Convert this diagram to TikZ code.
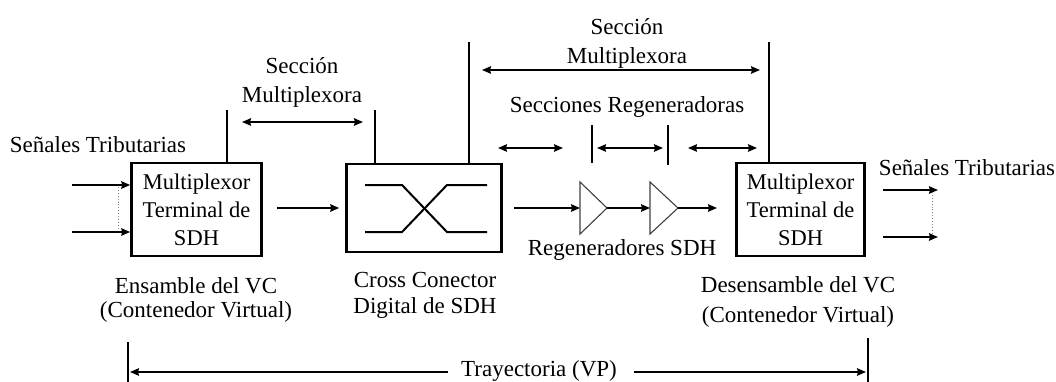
\documentclass[tikz,border=0pt]{standalone}
\usepackage{fontspec}
\setmainfont{Liberation Serif}
\usetikzlibrary{arrows.meta}
\begin{document}
\begin{tikzpicture}[x=1pt,y=-1pt,
  box/.style={draw, line width=2.6pt, align=center, inner sep=0pt, font=\fontsize{22.5}{28}\selectfont},
  lbl/.style={align=center, inner sep=0pt, font=\fontsize{23}{29}\selectfont},
  tip/.style={-{Stealth[length=9pt,width=7.5pt,inset=1pt]}},
  conn/.style={line width=1.6pt, tip},
  dbl/.style={line width=1.6pt, {Stealth[length=9pt,width=7.5pt,inset=1pt]}-{Stealth[length=9pt,width=7.5pt,inset=1pt]}},
  tick/.style={line width=1.4pt},
  dotline/.style={line width=0.9pt, dotted, gray},
  xpath/.style={line width=2pt},
  regen/.style={line width=1.1pt, draw=black!75}
]
\useasboundingbox (0,0) rectangle (1056,382);

% boxes
\node[box, minimum width=130pt, minimum height=93pt] (b1) at (196.5,209.5) {Multiplexor\\Terminal de\\SDH};
\node[box, minimum width=155pt, minimum height=88pt] (b2) at (424,208) {};
\node[box, minimum width=128pt, minimum height=93pt] (b3) at (800.5,209.5) {Multiplexor\\Terminal de\\SDH};

% cross connector symbol
\draw[xpath] (365,185) -- (402,185) -- (447,232) -- (487,232);
\draw[xpath] (365,232) -- (402,232) -- (447,185) -- (487,185);

% regenerators
\coordinate (t1w) at (580,208); \coordinate (t1e) at (607,208);
\coordinate (t2w) at (650,208); \coordinate (t2e) at (678,208);
\draw[regen] (580,182) -- (t1e) -- (580,234) -- cycle;
\draw[regen] (650,182) -- (t2e) -- (650,234) -- cycle;

% left tributary inputs
\coordinate (in1) at (72,185);
\coordinate (in2) at (72,232);
\draw[conn] (in1) -- (in1 -| b1.west);
\draw[conn] (in2) -- (in2 -| b1.west);
\draw[dotline] (118,187) -- (118,230);

% main chain
\draw[conn, shorten <=14pt, shorten >=6pt] (b1.east |- 0,208) -- (b2.west |- 0,208);
\draw[conn, shorten <=11pt] (b2.east |- t1w) -- (t1w);
\draw[conn] (t1e) -- (t2w);
\coordinate (t3) at (717,208);
\draw[conn] (t2e) -- (t3);

% right tributary outputs
\coordinate (o1s) at (883,190); \coordinate (o1) at (938,190);
\coordinate (o2s) at (883,237); \coordinate (o2) at (938,237);
\draw[conn] (o1s) -- (o1);
\draw[conn] (o2s) -- (o2);
\draw[dotline] (932,192) -- (932,235);

% vertical markers
\coordinate (v1) at (227,110);
\coordinate (v2) at (375,110);
\coordinate (v3) at (469,42);
\coordinate (v4) at (769,42);
\draw[tick] (v1) -- (v1 |- b1.north);
\draw[tick] (v2) -- (v2 |- b2.north);
\draw[tick] (v3) -- (v3 |- b2.north);
\draw[tick] (v4) -- (v4 |- b3.north);
\draw[tick] (592,125) -- (592,163);
\draw[tick] (668,125) -- (668,165);
\draw[tick] (128,342) -- (128,382);
\draw[tick] (868,338) -- (868,382);

% section arrows
\coordinate (s1a) at (242,122); \coordinate (s1b) at (363,122);
\draw[dbl] (s1a) -- (s1b);
\coordinate (s2a) at (482,70); \coordinate (s2b) at (760,70);
\draw[dbl] (s2a) -- (s2b);
\coordinate (r1a) at (498,148); \coordinate (r1b) at (563,148);
\coordinate (r2a) at (597,148); \coordinate (r2b) at (663,148);
\coordinate (r3a) at (688,148); \coordinate (r3b) at (757,148);
\draw[dbl] (r1a) -- (r1b);
\draw[dbl] (r2a) -- (r2b);
\draw[dbl] (r3a) -- (r3b);

% labels
\node[lbl] (stl) at (98,145) {Señales Tributarias};
\node[lbl] (str) at (967,168) {Señales Tributarias};
\node[lbl] (sm1) at (302,82) {Sección\\Multiplexora};
\node[lbl] (sm2) at (627,43) {Sección\\Multiplexora};
\node[lbl] (sr) at (627,107) {Secciones Regeneradoras};
\node[lbl] (rg) at (622,250) {Regeneradores SDH};
\node[lbl, font=\fontsize{23}{26}\selectfont] (cc) at (425,295) {Cross Conector\\Digital de SDH};
\node[lbl, font=\fontsize{23}{24}\selectfont] (ens) at (196,300) {Ensamble del VC\\(Contenedor Virtual)};
\node[lbl, font=\fontsize{23}{30}\selectfont] (des) at (798,302) {Desensamble del VC\\(Contenedor Virtual)};
\node[lbl] (tr) at (539,371) {Trayectoria (VP)};

% trajectory arrows
\coordinate (trl) at (130,372);
\coordinate (trr) at (866,372);
\draw[conn] (tr.west |- trl) ++(-13,0) -- (trl);
\draw[conn] (tr.east |- trr) ++(17,0) -- (trr);
\end{tikzpicture}
\end{document}
